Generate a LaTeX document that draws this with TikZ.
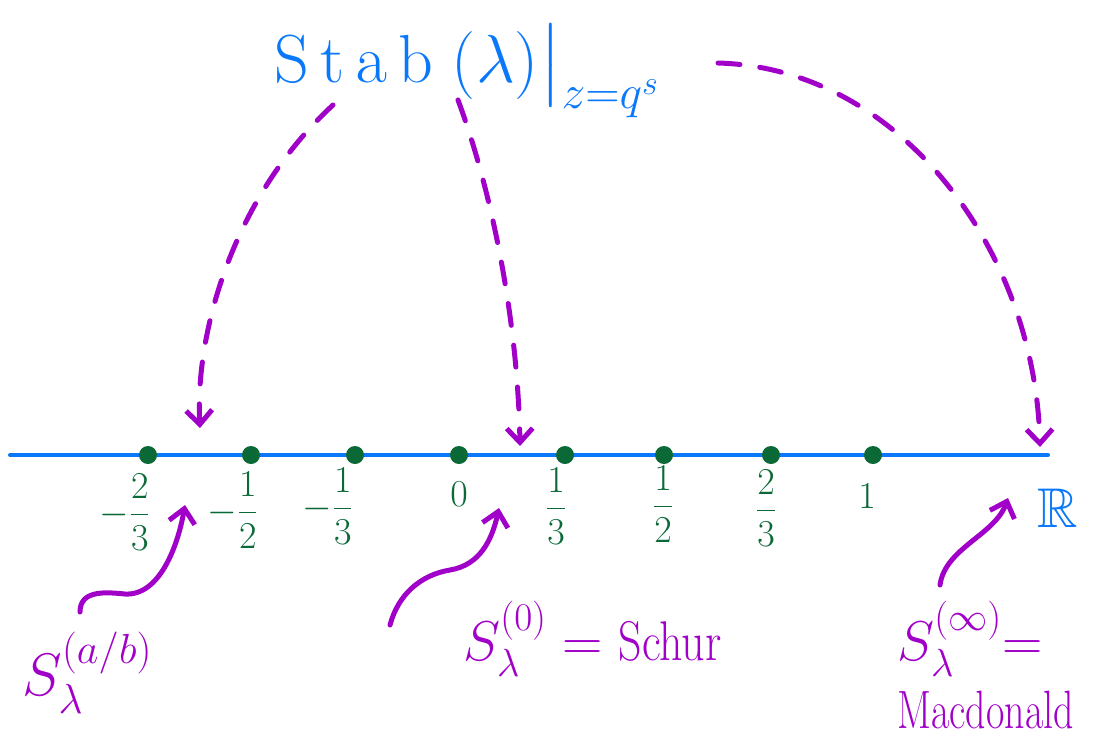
\RequirePackage{fix-cm}
\documentclass[tikz,border=0pt]{standalone}
\usepackage{amsmath}
\usepackage{amssymb}
\usepackage{tikz}
\usetikzlibrary{arrows.meta}
\definecolor{penblue}{RGB}{10,120,250}
\definecolor{pengreen}{RGB}{10,105,55}
\definecolor{penpurple}{RGB}{160,0,200}

\begin{document}
\begin{tikzpicture}[x=0.5pt, y=-0.5pt, line cap=round,
    pen/.style={penpurple, line width=2.5pt},
    dashpen/.style={pen, dash pattern=on 11pt off 10pt},
    penarrow/.style={-{Straight Barb[length=7pt, width=13pt, line width=2.5pt]}},
    txt/.style={inner sep=0pt, anchor=base west}]
    \useasboundingbox (0,0) rectangle (1096,734);

    % Real line
    \draw[penblue, line width=2pt] (10,455) -- (1048,455);
    \node[penblue, font=\fontsize{28}{30}\selectfont] (reals) at (1058,508) {$\mathbb{R}$};

    % Points on the line and their values
    \foreach \px/\lx/\ly/\lab in {148/125/512/{-\dfrac{2}{3}}, 251/233/510/{-\dfrac{1}{2}},
        355/328/506/{-\dfrac{1}{3}}, 459/459/494/{0}, 565/556/506/{\dfrac{1}{3}},
        664/663/504/{\dfrac{1}{2}}, 771/766/508/{\dfrac{2}{3}}, 873/867/496/{1}}
    {
        \fill[pengreen] (\px,455) circle (4.5pt) coordinate (pt\px);
        \node[pengreen, font=\fontsize{19}{21}\selectfont, inner sep=0pt] (val\px) at (\lx,\ly) {$\lab$};
    }

    % Stable envelope
    \node[txt, penblue, font=\fontsize{34}{40}\selectfont] (stab) at (274,82)
        {$\mathrm{S\,t\,a\,b}\;(\lambda)\big|_{z=q^{s}}$};

    % Specialisations
    \node[txt, penpurple, font=\fontsize{30}{36}\selectfont] (genlab) at (22,695) {$S^{(a/b)}_{\lambda}$};
    \node[txt, penpurple, font=\fontsize{28}{34}\selectfont] (schurlab) at (463,660)
        {$S^{(0)}_{\lambda} = \scalebox{0.82}[1]{Schur}$};
    \node[txt, penpurple, font=\fontsize{28}{34}\selectfont] (macsym) at (897,660) {$S^{(\infty)}_{\lambda}{=}$};
    \node[txt, penpurple, font=\fontsize{27}{30}\selectfont] (macname) at (897,728) {\scalebox{0.74}[1]{Macdonald}};

    % Dashed arrows from the top
    \coordinate (a1s) at (333,105);  \coordinate (a1e) at (200,428);
    \coordinate (a2s) at (458,100);  \coordinate (a2e) at (520,446);
    \coordinate (a3s) at (718,63);   \coordinate (a3e) at (1040,447);
    \draw[dashpen, penarrow] (a1s) .. controls (235,195) and (195,330) .. (a1e);
    \draw[dashpen, penarrow] (a2s) .. controls (495,200) and (518,330) .. (a2e);
    \draw[dashpen, penarrow] (a3s) .. controls (900,68) and (1035,250) .. (a3e);

    % Solid arrows from the labels
    \coordinate (b1s) at (80,612);   \coordinate (b1e) at (185,505);
    \coordinate (b2s) at (390,625);  \coordinate (b2e) at (499,508);
    \coordinate (b3s) at (940,585);  \coordinate (b3e) at (1008,498);
    \draw[pen, penarrow] (b1s) .. controls (80,590) and (105,592) .. (125,594)
        .. controls (160,596) and (178,545) .. (b1e);
    \draw[pen, penarrow] (b2s) .. controls (398,595) and (420,575) .. (450,570)
        .. controls (480,565) and (492,540) .. (b2e);
    \draw[pen, penarrow] (b3s) .. controls (945,548) and (995,535) .. (b3e);

\end{tikzpicture}
\end{document}
